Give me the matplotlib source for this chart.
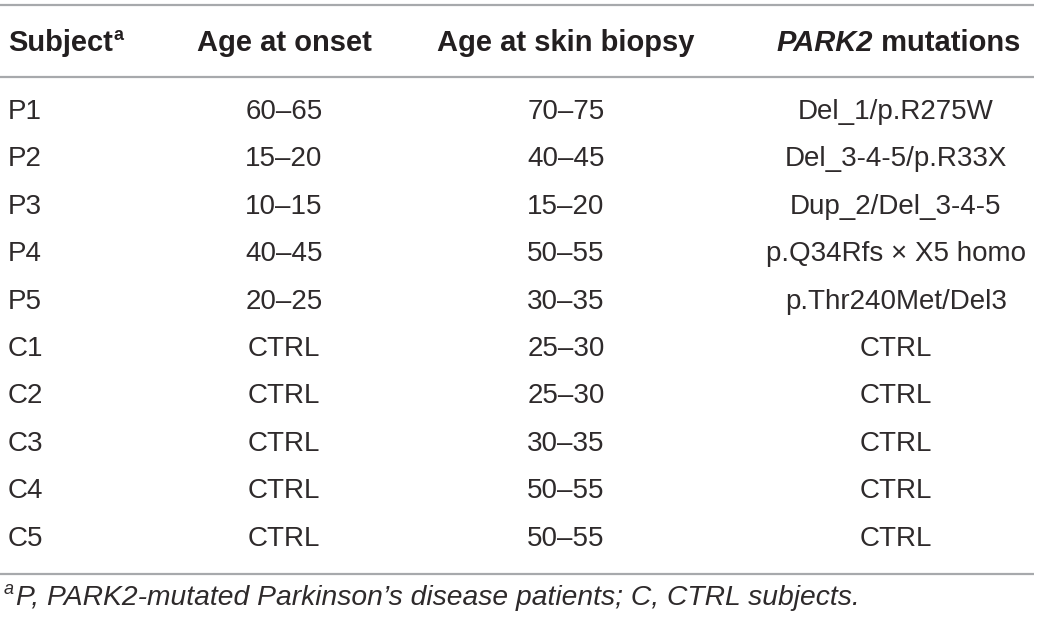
import matplotlib.pyplot as plt

# table content
headers = ["Subject", "Age at onset", "Age at skin biopsy", "PARK2", " mutations"]
subjects = ["P1", "P2", "P3", "P4", "P5", "C1", "C2", "C3", "C4", "C5"]
onset = ["60–65", "15–20", "10–15", "40–45", "20–25",
         "CTRL", "CTRL", "CTRL", "CTRL", "CTRL"]
biopsy = ["70–75", "40–45", "15–20", "50–55", "30–35",
          "25–30", "25–30", "30–35", "50–55", "50–55"]
mutations = ["Del_1/p.R275W", "Del_3-4-5/p.R33X", "Dup_2/Del_3-4-5",
             "p.Q34Rfs × X5 homo", "p.Thr240Met/Del3",
             "CTRL", "CTRL", "CTRL", "CTRL", "CTRL"]
footnote = "P, PARK2-mutated Parkinson’s disease patients; C, CTRL subjects."

W, H = 1040, 624
fig = plt.figure(figsize=(W / 100, H / 100), dpi=100)
ax = fig.add_axes([0, 0, 1, 1])
ax.set_xlim(0, W)
ax.set_ylim(H, 0)
ax.axis('off')
r = fig.canvas.get_renderer()

fam = ['Liberation Sans', 'DejaVu Sans']
txt = '#231f20'
body_c = '#2e2a2b'
linec = '#a7a9ac'
hs = 21     # header size
bs = 20     # body size


def width(t):
    bb = t.get_window_extent(renderer=r)
    return bb.width

# horizontal rules
for y in [5, 77, 574]:
    ax.plot([0, 1034], [y, y], color=linec, lw=1.6, solid_capstyle='butt')

# header
hy = 43
t = ax.text(8, hy, headers[0], ha='left', va='center', fontsize=hs,
            fontweight='bold', color=txt, family=fam)
ax.text(8 + width(t) + 1, hy - 8, "a", ha='left', va='center', fontsize=13,
        fontweight='bold', color=txt, family=fam)
ax.text(284, hy, headers[1], ha='center', va='center', fontsize=hs,
        fontweight='bold', color=txt, family=fam)
ax.text(566, hy, headers[2], ha='center', va='center', fontsize=hs,
        fontweight='bold', color=txt, family=fam)
p1 = ax.text(0, hy, headers[3], ha='left', va='center', fontsize=hs,
             fontweight='bold', style='italic', color=txt, family=fam)
p2 = ax.text(0, hy, headers[4], ha='left', va='center', fontsize=hs,
             fontweight='bold', color=txt, family=fam)
w1, w2 = width(p1), width(p2)
xs = 898 - (w1 + w2) / 2
p1.set_x(xs)
p2.set_x(xs + w1)

# body rows
y0, dy = 112, 47.4
for i in range(len(subjects)):
    y = y0 + i * dy
    ax.text(8, y, subjects[i], ha='left', va='center', fontsize=bs,
            color=body_c, family=fam)
    ax.text(284, y, onset[i], ha='center', va='center', fontsize=bs,
            color=body_c, family=fam)
    ax.text(566, y, biopsy[i], ha='center', va='center', fontsize=bs,
            color=body_c, family=fam)
    ax.text(896, y, mutations[i], ha='center', va='center', fontsize=bs,
            color=body_c, family=fam)

# footnote
ax.text(4, 590, "a", ha='left', va='center', fontsize=13,
        style='italic', color=body_c, family=fam)
ax.text(16, 598, footnote, ha='left', va='center', fontsize=20.3,
        style='italic', color=body_c, family=fam)

fig.savefig('out.png', dpi=100)
